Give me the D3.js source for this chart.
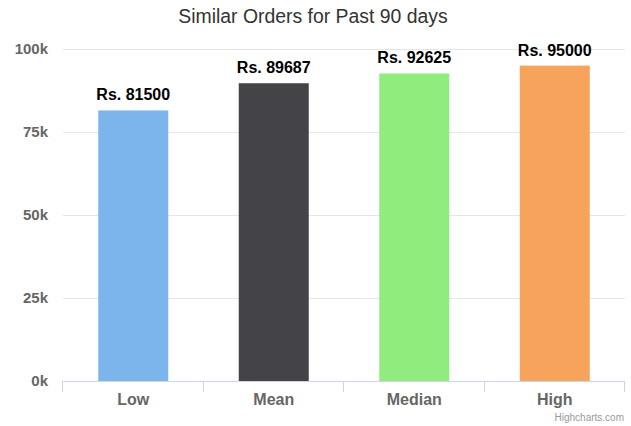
<!DOCTYPE html>
<html><head><meta charset="utf-8">
<script src="https://cdn.jsdelivr.net/npm/d3@7/dist/d3.min.js"></script>
<style>body{margin:0;background:#fff}svg{display:block;font-family:"Liberation Sans",Arial,Helvetica,sans-serif}</style>
</head><body>
<script>
const categories = ["Low", "Mean", "Median", "High"];
const values = [81500, 89687, 92625, 95000];
const labels = ["Rs. 81500", "Rs. 89687", "Rs. 92625", "Rs. 95000"];
const colors = ["#7cb5ec", "#434348", "#90ed7d", "#f7a35c"];
const yTicks = [0, 25000, 50000, 75000, 100000];
const yTickLabels = ["0k", "25k", "50k", "75k", "100k"];
const title = "Similar Orders for Past 90 days";

const W = 631, H = 426;
const m = {left: 63, right: 6, top: 49, bottom: 45};
const svg = d3.select("body").append("svg").attr("width", W).attr("height", H);

const x = d3.scaleBand().domain(categories).range([m.left, W - m.right]).paddingInner(0).paddingOuter(0);
const y = d3.scaleLinear().domain([0, 100000]).range([H - m.bottom, m.top]);

svg.append("text").attr("x", 313).attr("y", 23).attr("text-anchor", "middle")
  .attr("fill", "#333").style("font-size", "19.4px").text(title);

// gridlines
svg.append("g").selectAll("line").data(yTicks).join("line")
  .attr("x1", m.left).attr("x2", W - m.right)
  .attr("y1", d => Math.round(y(d)) + 0.5).attr("y2", d => Math.round(y(d)) + 0.5)
  .attr("stroke", "#e6e6e6");

// y labels
svg.append("g").selectAll("text").data(yTicks).join("text")
  .attr("x", 48).attr("y", d => y(d) + 5).attr("text-anchor", "end")
  .attr("fill", "#666").style("font-size", "15px").style("font-weight", "bold")
  .text((d, i) => yTickLabels[i]);

// bars
const bw = 70;
svg.append("g").selectAll("rect").data(values).join("rect")
  .attr("x", (d, i) => x(categories[i]) + x.bandwidth() / 2 - bw / 2)
  .attr("width", bw)
  .attr("y", d => y(d)).attr("height", d => y(0) - y(d))
  .attr("fill", (d, i) => colors[i]);

// data labels
svg.append("g").selectAll("text").data(values).join("text")
  .attr("x", (d, i) => x(categories[i]) + x.bandwidth() / 2)
  .attr("y", d => y(d) - 10).attr("text-anchor", "middle")
  .attr("fill", "#000").style("font-size", "16px").style("font-weight", "bold")
  .text((d, i) => labels[i]);

// x axis
const xa = svg.append("g");
xa.append("line").attr("x1", m.left).attr("x2", W - m.right)
  .attr("y1", y(0) + 0.5).attr("y2", y(0) + 0.5).attr("stroke", "#ccd6eb");
const tickPos = categories.map(c => x(c)).concat([x(categories[categories.length - 1]) + x.bandwidth()]);
xa.selectAll("line.t").data(tickPos).join("line").attr("class", "t")
  .attr("x1", d => Math.round(d) - 0.5).attr("x2", d => Math.round(d) - 0.5)
  .attr("y1", y(0)).attr("y2", y(0) + 11).attr("stroke", "#ccd6eb");
xa.selectAll("text").data(categories).join("text")
  .attr("x", d => x(d) + x.bandwidth() / 2).attr("y", 405).attr("text-anchor", "middle")
  .attr("fill", "#666").style("font-size", "16px").style("font-weight", "bold")
  .text(d => d);

svg.append("text").attr("x", 624).attr("y", 421).attr("text-anchor", "end")
  .attr("fill", "#999").style("font-size", "10px").text("Highcharts.com");
</script>
</body></html>
